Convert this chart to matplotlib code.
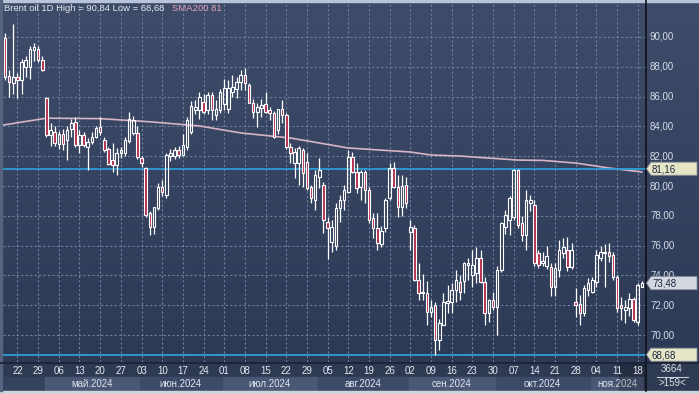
import numpy as np
import pandas as pd
import matplotlib
matplotlib.use('Agg')
import matplotlib.pyplot as plt
from matplotlib.patches import Rectangle, Polygon
from matplotlib.colors import LinearSegmentedColormap
from matplotlib.transforms import blended_transform_factory

# daily bars, Apr 17 .. Nov 19 2024
dates = pd.bdate_range('2024-04-17', '2024-11-19')

opens = [89.9, 87.4, 86.9, 87.3, 87.1, 88.0, 88.0, 89.1, 89.2, 88.45,
         85.9, 83.42, 83.6, 82.8, 83.5, 83.1, 83.8, 84.3, 82.75, 83.4,
         82.6, 82.97, 83.3, 83.98, 83.1, 82.5, 81.74, 81.41, 82.2, 82.2,
         83.0, 83.54, 83.54, 81.86, 81.2, 78.17, 77.27, 78.5, 79.95, 79.4,
         82.0, 82.0, 82.4, 82.1, 82.6, 83.6, 85.1, 85.1, 85.66, 85.1,
         86.1, 84.77, 85.1, 85.5, 85.2, 86.33, 86.49, 87.0, 87.45, 86.78,
         85.59, 84.99, 85.21, 85.5, 85.1, 84.88, 83.76, 85.15, 84.77, 82.64,
         81.52, 81.52, 82.42, 81.63, 79.96, 79.06, 80.63, 80.07, 77.61, 76.27,
         76.0, 78.5, 79.06, 79.62, 81.97, 80.96, 79.96, 80.96, 79.73, 77.83,
         77.16, 76.1, 77.16, 79.17, 81.19, 79.9, 78.6, 80.07, 76.94, 77.16,
         73.7, 72.9, 72.79, 71.56, 72.0, 69.66, 70.67, 72.15, 72.23, 73.0,
         73.57, 73.6, 74.7, 74.0, 74.13, 75.14, 73.57, 71.45, 72.34, 71.9,
         74.36, 77.27, 77.72, 77.94, 81.07, 77.5, 76.7, 78.84, 78.73, 75.5,
         74.8, 74.6, 74.58, 73.24, 74.36, 75.5, 75.7, 74.58, 72.23, 72.1,
         71.45, 73.0, 72.9, 73.57, 75.14, 75.48, 75.6, 75.36, 73.9, 72.0,
         71.67, 71.79, 72.45, 70.9, 73.24]
highs = [90.3, 87.8, 90.84, 87.6, 88.5, 88.7, 89.4, 89.6, 89.4, 88.7,
         86.0, 84.2, 84.0, 83.7, 83.8, 84.0, 84.5, 84.6, 83.76, 83.6,
         83.2, 83.6, 84.0, 84.6, 83.3, 82.6, 82.87, 82.53, 82.6, 83.3,
         84.97, 84.7, 84.0, 82.0, 81.3, 78.3, 78.61, 80.2, 80.4, 82.2,
         82.5, 82.6, 82.7, 83.5, 84.6, 85.7, 85.8, 86.3, 86.2, 86.3,
         86.3, 85.77, 86.5, 87.2, 87.1, 87.45, 87.34, 87.79, 87.9, 86.89,
         85.82, 85.55, 85.82, 86.33, 85.3, 85.0, 85.15, 85.77, 84.9, 82.87,
         82.53, 82.7, 82.53, 82.19, 80.07, 81.07, 81.86, 80.29, 77.94, 77.72,
         78.84, 79.4, 80.07, 82.42, 82.3, 81.52, 81.07, 81.07, 79.96, 78.17,
         78.17, 77.3, 79.17, 81.52, 81.63, 80.74, 80.74, 80.63, 77.72, 77.4,
         74.8, 74.1, 73.6, 72.35, 72.23, 71.1, 72.8, 73.35, 73.46, 74.36,
         74.0, 74.92, 75.2, 75.7, 75.9, 75.7, 73.9, 72.45, 72.9, 74.6,
         77.6, 78.4, 79.3, 81.16, 81.16, 78.0, 79.73, 79.4, 79.06, 75.7,
         75.6, 76.0, 74.8, 74.8, 76.4, 76.5, 76.6, 76.2, 73.13, 72.7,
         73.35, 73.8, 73.9, 75.7, 76.0, 76.1, 76.2, 75.6, 74.0, 72.56,
         72.35, 72.8, 72.56, 73.46, 73.6]
lows = [87.1, 86.0, 86.2, 85.9, 86.2, 87.3, 87.2, 88.4, 88.3, 87.7,
        83.3, 82.7, 82.7, 82.5, 82.4, 81.75, 83.3, 82.6, 82.19, 82.6,
        81.07, 82.8, 83.2, 83.4, 82.3, 81.4, 80.96, 80.74, 81.9, 82.0,
        82.9, 83.4, 81.8, 81.3, 77.9, 76.71, 76.8, 78.4, 79.3, 79.2,
        81.7, 81.8, 81.9, 82.0, 82.4, 83.5, 84.8, 84.5, 84.8, 84.8,
        84.43, 84.43, 84.9, 85.1, 84.9, 85.99, 85.88, 86.44, 86.44, 85.55,
        84.54, 83.98, 84.65, 84.88, 84.43, 83.2, 83.5, 84.2, 82.5, 81.52,
        80.52, 80.07, 79.96, 79.73, 78.84, 78.39, 79.84, 76.82, 75.07, 75.6,
        75.7, 77.6, 78.39, 79.51, 80.85, 79.51, 79.06, 78.84, 77.5, 76.49,
        75.7, 75.9, 76.94, 79.06, 79.84, 77.94, 78.0, 78.5, 75.7, 73.6,
        72.35, 72.35, 70.67, 71.2, 68.68, 69.0, 70.67, 71.45, 71.45, 72.23,
        72.35, 72.79, 73.7, 73.24, 73.5, 73.46, 70.67, 70.9, 71.7, 70.0,
        74.2, 76.8, 76.7, 77.7, 77.2, 76.3, 75.7, 78.3, 74.6, 74.5,
        74.6, 74.4, 72.6, 72.6, 73.9, 75.2, 74.3, 74.4, 71.2, 70.67,
        71.3, 72.6, 72.8, 73.24, 75.0, 73.24, 74.9, 73.7, 71.57, 71.0,
        70.78, 71.3, 70.9, 70.67, 73.2]
closes = [87.3, 86.95, 87.3, 87.1, 88.3, 88.45, 89.2, 89.3, 88.45, 87.8,
          83.42, 83.76, 82.9, 83.5, 82.8, 83.76, 84.2, 82.75, 83.42, 82.75,
          82.97, 83.31, 83.87, 83.65, 82.42, 81.5, 81.41, 82.19, 82.4, 83.1,
          84.5, 84.43, 81.97, 81.52, 78.05, 77.27, 78.61, 79.95, 79.6, 82.08,
          82.2, 82.4, 82.1, 82.75, 84.4, 85.37, 85.32, 86.0, 84.99, 86.1,
          85.1, 85.2, 86.33, 86.55, 86.6, 86.62, 87.0, 87.45, 86.93, 85.59,
          84.99, 85.28, 85.44, 84.99, 84.88, 83.3, 85.15, 84.77, 82.64, 82.19,
          82.3, 82.53, 80.85, 79.84, 79.17, 80.74, 81.07, 77.72, 77.16, 77.27,
          78.5, 79.06, 79.73, 81.97, 80.96, 79.84, 80.96, 79.73, 77.72, 77.16,
          76.16, 77.0, 79.06, 81.19, 79.96, 78.6, 80.0, 78.84, 77.27, 73.7,
          72.8, 72.79, 71.56, 71.9, 69.66, 70.78, 72.23, 72.25, 73.0, 73.7,
          72.9, 74.8, 74.8, 74.7, 75.14, 73.57, 71.45, 72.34, 71.9, 74.36,
          77.5, 78.05, 79.17, 81.07, 77.38, 76.7, 79.06, 79.06, 74.8, 74.7,
          75.0, 75.3, 73.24, 74.47, 75.7, 75.9, 74.58, 75.7, 72.0, 71.45,
          73.13, 73.46, 73.68, 75.36, 75.6, 75.6, 75.3, 73.9, 71.79, 71.79,
          71.9, 72.45, 71.0, 73.35, 73.48]

# SMA200 read at a few bars
sma_idx = [-0.5, 10, 23, 35, 47, 57, 69, 83, 98, 103, 110, 124, 130, 138, 146, 154]
sma_val = [84.09, 84.55, 84.52, 84.31, 84.03, 83.56, 83.22, 82.55, 82.28, 82.08,
           82.01, 81.74, 81.72, 81.54, 81.21, 80.94]

price_ticks = [70, 72, 74, 76, 78, 80, 82, 84, 86, 88, 90]
line_hi = 81.16
line_lo = 68.68
last_price = 73.48
months = ['май.2024', 'июн.2024', 'июл.2024', 'авг.2024', 'сен.2024', 'окт.2024', 'ноя.2024']

plt.rcParams['font.family'] = ['Liberation Sans', 'DejaVu Sans']

W, H = 699, 394
x0, x1, y0, y1 = 3, 646, 3, 362          # plot area in pixels
xlo, xhi = -0.5, 155.0
ytop, ybot = 92.28, 68.19

def py(p):
    return y0 + (ytop - p) * (y1 - y0) / (ytop - ybot)

fig = plt.figure(figsize=(W / 100, H / 100), dpi=100)
fig.patch.set_facecolor('#2e3a53')

# background layer in pixel coords
bg = fig.add_axes([0, 0, 1, 1], zorder=0)
bg.set_xlim(0, W)
bg.set_ylim(H, 0)
bg.axis('off')
cmap = LinearSegmentedColormap.from_list('bg', ['#3e4c6a', '#2d3a56'])
grad = np.linspace(0, 1, 256).reshape(-1, 1)
bg.imshow(grad, cmap=cmap, extent=[0, W, y1, y0], aspect='auto', zorder=0)
bg.add_patch(Rectangle((0, y1), W, H - y1, color='#2e3952', zorder=1))

n = len(closes)
xs = np.arange(n)
ix = lambda i: x0 + (i - xlo) * (x1 - x0) / (xhi - xlo)

# month bands in the date strip
mon = dates.month
band_cols = ['#4a5775', '#3e4b68']
first = 0
bands = []
for i in range(1, n + 1):
    if i == n or mon[i] != mon[first]:
        bands.append((first, i - 1))
        first = i
for k, (a, b) in enumerate(bands):
    xa, xb = ix(a - 0.5), ix(b + 0.5)
    if k == 0:
        col = '#35425d'
    else:
        col = band_cols[(k - 1) % 2]
    bg.add_patch(Rectangle((xa + 0.5, 377), xb - xa - 1, 13, color=col, zorder=2))
    if k > 0:
        bg.text((xa + xb) / 2, 384, months[k - 1], color='#dfe4ee', fontsize=7,
                ha='center', va='center', zorder=3)
bg.add_patch(Rectangle((ix(148.5), 364), ix(154.5) - ix(148.5), 26,
                       color='black', alpha=0.18, zorder=4))
bg.add_patch(Rectangle((0, 391), W, 3, color='#cfd3db', zorder=5))
bg.add_patch(Rectangle((0, 0), W, 2, color='#b9c3da', zorder=5))
bg.add_patch(Rectangle((0, 0), 2, 391, color='#56647f', zorder=5))

# main price axes
ax = fig.add_axes([x0 / W, 1 - y1 / H, (x1 - x0) / W, (y1 - y0) / H], zorder=1)
ax.set_facecolor('none')
ax.set_xlim(xlo, xhi)
ax.set_ylim(ybot, ytop)
for s in ax.spines.values():
    s.set_visible(False)
ax.set_xticks([])
ax.set_yticks([])

mondays = [i for i in range(n) if dates[i].dayofweek == 0]
for p in price_ticks:
    ax.axhline(p, color='#6e7e9f', lw=0.8, ls=(0, (2, 2)), zorder=1)
for i in mondays:
    ax.axvline(i, color='#6e7e9f', lw=0.8, ls=(0, (2, 2)), zorder=1)

ax.plot(sma_idx, sma_val, color='#d7b4c6', lw=1.2, zorder=2)
ax.axhline(line_hi, color='#2c9fd8', lw=1.3, zorder=2)
ax.axhline(line_lo, color='#2c9fd8', lw=1.3, zorder=2)

o = np.array(opens)
c = np.array(closes)
hi = np.array(highs)
lo = np.array(lows)
top = np.maximum(o, c)
bot = np.minimum(o, c)
up = c >= o
ax.vlines(xs, top, hi, color='white', lw=0.9, zorder=3)
ax.vlines(xs, lo, bot, color='white', lw=0.9, zorder=3)
ax.bar(xs[up], np.maximum(top - bot, 0.04)[up], bottom=bot[up], width=0.62,
       facecolor='none', edgecolor='white', lw=0.8, zorder=4)
ax.bar(xs[~up], np.maximum(top - bot, 0.04)[~up], bottom=bot[~up], width=0.62,
       facecolor='#b42e4e', edgecolor='white', lw=0.8, zorder=4)

ax.text(0.002, 0.986, 'Brent oil 1D High = 90,84 Low = 68,68', transform=ax.transAxes,
        color='#e6eaf2', fontsize=6.8, ha='left', va='center', zorder=6)
ax.text(0.263, 0.986, 'SMA200 81', transform=ax.transAxes,
        color='#e3a6ba', fontsize=6.8, ha='left', va='center', zorder=6)

# date labels
tr = blended_transform_factory(ax.transData, ax.transAxes)
for i in mondays:
    ax.text(i, -0.025, dates[i].strftime('%d'), transform=tr, color='#e4e8f0',
            fontsize=7, ha='center', va='center', clip_on=False)

# right price scale and overlays
fg = fig.add_axes([0, 0, 1, 1], zorder=2)
fg.set_xlim(0, W)
fg.set_ylim(H, 0)
fg.axis('off')
for p in price_ticks:
    fg.text(650, py(p), f'{p:.2f}'.replace('.', ','), color='#d5dbe7', fontsize=7,
            ha='left', va='center')

def tag(p, col):
    y = py(p)
    fg.add_patch(Polygon([(646.5, y), (651, y - 6.5), (697, y - 6.5), (697, y + 6.5),
                          (651, y + 6.5)], closed=True, facecolor=col,
                         edgecolor='#8d93a0', lw=0.6, zorder=5))
    fg.text(652, y + 0.5, f'{p:.2f}'.replace('.', ','), color='#1d2840', fontsize=7,
            ha='left', va='center', zorder=6)

tag(line_hi, '#e6e6c6')
tag(last_price, '#d3d8e1')
tag(line_lo, '#e6e6c6')

fg.plot([x1, x1], [0, 391], color='#0e1218', lw=1.2)
fg.plot([0, W], [y1 + 0.5, y1 + 0.5], color='#1a2131', lw=1.2)
fg.text(672, 369.5, '3664', color='#dfe3ea', fontsize=7, ha='center', va='center')
fg.plot([657, 688], [376.5, 376.5], color='#c8ced8', lw=0.8)
fg.text(672, 383.5, '>159<', color='#dfe3ea', fontsize=7, ha='center', va='center')

fig.savefig('out.png', dpi=100)
